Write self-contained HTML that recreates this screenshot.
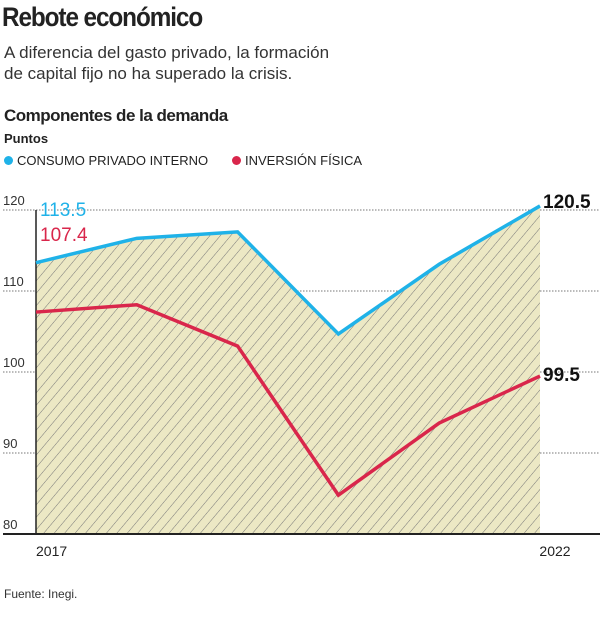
<!DOCTYPE html>
<html><head><meta charset="utf-8"><style>
body{margin:0;width:600px;height:620px;background:#fff;font-family:"Liberation Sans",sans-serif;overflow:hidden}
.t{position:absolute;white-space:nowrap}
</style></head><body>
<div class="t" style="left:2px;top:2px;font-size:27px;font-weight:bold;letter-spacing:-1.2px;color:#222;transform:scaleX(0.9);transform-origin:left">Rebote económico</div>
<div class="t" style="left:4px;top:42px;font-size:17px;color:#333;line-height:21px">A diferencia del gasto privado, la formación<br>de capital fijo no ha superado la crisis.</div>
<div class="t" style="left:4px;top:106px;font-size:17px;font-weight:bold;color:#222;letter-spacing:-0.5px">Componentes de la demanda</div>
<div class="t" style="left:4px;top:131px;font-size:13px;font-weight:bold;color:#222">Puntos</div>
<div class="t" style="left:4px;top:153px;font-size:13px;color:#222"><span style="display:inline-block;width:9px;height:9px;border-radius:50%;background:#1fb2e8;margin-right:4px"></span>CONSUMO PRIVADO INTERNO</div>
<div class="t" style="left:232px;top:153px;font-size:13px;color:#222"><span style="display:inline-block;width:9px;height:9px;border-radius:50%;background:#d9264b;margin-right:4px"></span>INVERSIÓN FÍSICA</div>
<div class="t" style="left:4px;top:587px;font-size:12px;color:#333">Fuente: Inegi.</div>
<svg id="c" width="600" height="620" style="position:absolute;left:0;top:0">
<defs><pattern id="h" width="8" height="8" patternUnits="userSpaceOnUse" patternTransform="rotate(40)"><rect width="8" height="8" fill="#ece8c4"/><line x1="0" y1="0" x2="0" y2="8" stroke="#777" stroke-width="1"/></pattern></defs>
</svg>
<script>
const years=["2017","2018","2019","2020","2021","2022"];
const consumo=[113.5,116.5,117.3,104.7,113.3,120.5];
const inversion=[107.4,108.3,103.2,84.8,93.7,99.5];
const yTicks=[80,90,100,110,120];
const svg=document.getElementById('c');const NS='http://www.w3.org/2000/svg';
const x=i=>36+i*(540-36)/(years.length-1);
const y=v=>534-(v-80)*8.1;
function mk(t,a,p){const e=document.createElementNS(NS,t);for(const k in a)e.setAttribute(k,a[k]);(p||svg).appendChild(e);return e;}
yTicks.forEach(v=>{
 if(v>80){const g=mk('line',{x1:3,x2:600,y1:y(v),y2:y(v),stroke:'#777','stroke-dasharray':'1.5,1.5','stroke-width':1});
 
 }
 const t=mk('text',{x:3,y:y(v)-5,'font-size':13,fill:'#333'});t.textContent=v;
 
 
});
let d='M'+x(0)+','+y(80);consumo.forEach((v,i)=>d+=' L'+x(i)+','+y(v));d+=' L'+x(consumo.length-1)+','+y(80)+'Z';
const area=mk('path',{d:d,fill:'url(#h)'});


const ax=mk('line',{x1:36,x2:36,y1:210,y2:534,stroke:'#222','stroke-width':1.5});


const bx=mk('line',{x1:3,x2:600,y1:534,y2:534,stroke:'#222','stroke-width':2});


function line(arr,col,name){const l=mk('polyline',{points:arr.map((v,i)=>x(i)+','+y(v)).join(' '),fill:'none',stroke:col,'stroke-width':3.5,'stroke-linejoin':'miter'});
 
 }
line(inversion,'#d9264b','inversion-line');
line(consumo,'#1fb2e8','consumo-line');
[[0,'start'],[years.length-1,'middle']].forEach(([i,a])=>{const t=mk('text',{x:i?x(i)+15:36,y:556,'font-size':14,fill:'#222','text-anchor':a});t.textContent=years[i];
 
 });
const labs=[[consumo[0].toFixed(1),40,216,'#1fb2e8','normal','consumo-start-label'],[inversion[0].toFixed(1),40,241,'#d9264b','normal','inversion-start-label'],
[consumo[5].toFixed(1),543,208,'#111','bold','consumo-end-label'],[inversion[5].toFixed(1),543,381,'#111','bold','inversion-end-label']];
labs.forEach(([s,lx,ly,c,w,n])=>{const t=mk('text',{x:lx,y:ly,'font-size':19,fill:c,'font-weight':w});t.textContent=s;
 
 });
</script>
</body></html>
